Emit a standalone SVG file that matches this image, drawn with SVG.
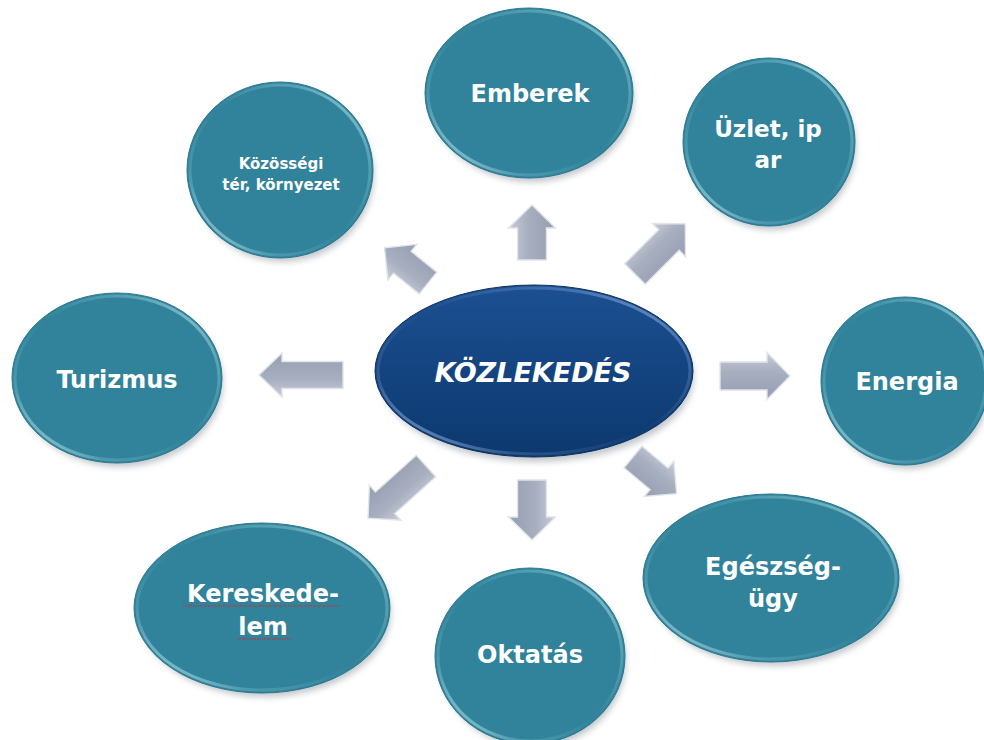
<svg xmlns="http://www.w3.org/2000/svg" width="984" height="740" viewBox="0 0 984 740">
<style>
.lbl{font-family:"DejaVu Sans","Liberation Sans",sans-serif;font-weight:bold;fill:#ffffff;text-anchor:middle}
.bub{fill:#30839a}
.rim{fill:none;stroke:url(#rimG);stroke-width:3}
.edge{fill:none;stroke:#2a7890;stroke-width:1}
.shd{fill:#6d7780;opacity:0.4;filter:url(#blur)}
.arr{fill:url(#arrG);stroke:#e1e4eb;stroke-width:1.4;stroke-linejoin:miter}
.squig{fill:none;stroke:#d42a2a;stroke-width:1.2;stroke-dasharray:1.5 1}
</style>
<defs>
<filter id="blur" x="-20%" y="-20%" width="140%" height="140%"><feGaussianBlur stdDeviation="3"/></filter>
<linearGradient id="rimG" x1="0" y1="1" x2="1" y2="0">
<stop offset="0" stop-color="#e4fbff" stop-opacity="0.95"/>
<stop offset="0.22" stop-color="#bfeff7" stop-opacity="0.2"/>
<stop offset="0.5" stop-color="#bfeff7" stop-opacity="0"/>
<stop offset="0.8" stop-color="#bfeff7" stop-opacity="0.3"/>
<stop offset="1" stop-color="#e4fbff" stop-opacity="0.85"/>
</linearGradient>
<linearGradient id="rimB" x1="0" y1="1" x2="1" y2="0">
<stop offset="0" stop-color="#c8dcff" stop-opacity="0.95"/>
<stop offset="0.22" stop-color="#9cbcf0" stop-opacity="0.2"/>
<stop offset="0.5" stop-color="#9cbcf0" stop-opacity="0"/>
<stop offset="0.8" stop-color="#9cbcf0" stop-opacity="0.3"/>
<stop offset="1" stop-color="#c8dcff" stop-opacity="0.8"/>
</linearGradient>
<linearGradient id="coreG" x1="0" y1="0" x2="0" y2="1">
<stop offset="0" stop-color="#1c5092"/>
<stop offset="1" stop-color="#0c386e"/>
</linearGradient>
<linearGradient id="arrG" x1="0" y1="0" x2="0" y2="1">
<stop offset="0" stop-color="#c9cdd8"/>
<stop offset="0.4" stop-color="#a8afc0"/>
<stop offset="1" stop-color="#969db1"/>
</linearGradient>
</defs>
<rect width="984" height="740" fill="#ffffff"/>

<g id="connectors">
<path class="arr" transform="translate(532,260) rotate(-90)" d="M0,-14.5 H32 V-23.5 L55,0 L32,23.5 V14.5 H0 Z"/>
<path class="arr" transform="translate(635,274) rotate(-45)" d="M0,-14.5 H48 V-23.5 L71,0 L48,23.5 V14.5 H0 Z"/>
<path class="arr" transform="translate(720,376)" d="M0,-14 H47 V-23.5 L70,0 L47,23.5 V14 H0 Z"/>
<path class="arr" transform="translate(633,457) rotate(40)" d="M0,-14 H34 V-23 L57,0 L34,23 V14 H0 Z"/>
<path class="arr" transform="translate(532,480) rotate(90)" d="M0,-14.5 H37 V-23.5 L60,0 L37,23.5 V14.5 H0 Z"/>
<path class="arr" transform="translate(426,466) rotate(138)" d="M0,-14.5 H55 V-23.5 L78,0 L55,23.5 V14.5 H0 Z"/>
<path class="arr" transform="translate(343,375) rotate(180)" d="M0,-13.5 H61 V-22 L84,0 L61,22 V13.5 H0 Z"/>
<path class="arr" transform="translate(428,283) rotate(-141)" d="M0,-14 H33 V-23 L56,0 L33,23 V14 H0 Z"/>
</g>

<g id="n-emberek">
<ellipse class="shd" cx="532" cy="98" rx="102" ry="84"/>
<ellipse class="bub" cx="529" cy="93" rx="104" ry="85"/>
<ellipse class="edge" cx="529" cy="93" rx="104" ry="85"/>
<ellipse class="rim" cx="529" cy="93" rx="101" ry="82"/>
<text class="lbl" x="530" y="102" font-size="24">Emberek</text>
</g>

<g id="n-uzlet">
<ellipse class="shd" cx="772" cy="147" rx="84" ry="83"/>
<ellipse class="bub" cx="769" cy="142" rx="86" ry="84"/>
<ellipse class="edge" cx="769" cy="142" rx="86" ry="84"/>
<ellipse class="rim" cx="769" cy="142" rx="83" ry="81"/>
<text class="lbl" x="768" y="137" font-size="23">Üzlet, ip</text>
<text class="lbl" x="768" y="168" font-size="23">ar</text>
</g>

<g id="n-kozossegi">
<ellipse class="shd" cx="283" cy="175" rx="91" ry="87"/>
<ellipse class="bub" cx="280" cy="170" rx="93" ry="88"/>
<ellipse class="edge" cx="280" cy="170" rx="93" ry="88"/>
<ellipse class="rim" cx="280" cy="170" rx="90" ry="85"/>
<text class="lbl" x="281" y="169" font-size="15">Közösségi</text>
<text class="lbl" x="281" y="190" font-size="15">tér, környezet</text>
</g>

<g id="n-turizmus">
<ellipse class="shd" cx="120" cy="383" rx="103" ry="84"/>
<ellipse class="bub" cx="117" cy="378" rx="105" ry="85"/>
<ellipse class="edge" cx="117" cy="378" rx="105" ry="85"/>
<ellipse class="rim" cx="117" cy="378" rx="102" ry="82"/>
<text class="lbl" x="117" y="388" font-size="24">Turizmus</text>
</g>

<g id="n-energia">
<ellipse class="shd" cx="908" cy="386" rx="82" ry="83"/>
<ellipse class="bub" cx="905" cy="381" rx="84" ry="84"/>
<ellipse class="edge" cx="905" cy="381" rx="84" ry="84"/>
<ellipse class="rim" cx="905" cy="381" rx="81" ry="81"/>
<text class="lbl" x="907" y="390" font-size="24">Energia</text>
</g>

<g id="n-egeszsegugy">
<ellipse class="shd" cx="774" cy="583" rx="126" ry="83"/>
<ellipse class="bub" cx="771" cy="578" rx="128" ry="84"/>
<ellipse class="edge" cx="771" cy="578" rx="128" ry="84"/>
<ellipse class="rim" cx="771" cy="578" rx="125" ry="81"/>
<text class="lbl" x="773" y="575" font-size="24">Egészség-</text>
<text class="lbl" x="773" y="607" font-size="24">ügy</text>
</g>

<g id="n-oktatas">
<ellipse class="shd" cx="533" cy="661" rx="93" ry="87"/>
<ellipse class="bub" cx="530" cy="656" rx="95" ry="88"/>
<ellipse class="edge" cx="530" cy="656" rx="95" ry="88"/>
<ellipse class="rim" cx="530" cy="656" rx="92" ry="85"/>
<text class="lbl" x="530" y="663" font-size="24">Oktatás</text>
</g>

<g id="n-kereskedelem">
<ellipse class="shd" cx="265" cy="613" rx="126" ry="84"/>
<ellipse class="bub" cx="262" cy="608" rx="128" ry="85"/>
<ellipse class="edge" cx="262" cy="608" rx="128" ry="85"/>
<ellipse class="rim" cx="262" cy="608" rx="125" ry="82"/>
<text class="lbl" x="263" y="602" font-size="24">Kereskede-</text>
<text class="lbl" x="263" y="635" font-size="24">lem</text>
<path class="squig" d="M183,606 H339"/>
<path class="squig" d="M237,639 H292"/>
</g>

<g id="n-kozlekedes">
<ellipse class="shd" cx="537" cy="377" rx="157" ry="85"/>
<ellipse cx="534" cy="371" rx="159" ry="86" fill="url(#coreG)"/>
<ellipse cx="534" cy="371" rx="159" ry="86" fill="none" stroke="#0a2f5e" stroke-width="1"/>
<ellipse cx="534" cy="371" rx="156" ry="83" fill="none" stroke="url(#rimB)" stroke-width="3"/>
<text class="lbl" x="533" y="382" font-size="27" font-style="italic">KÖZLEKEDÉS</text>
</g>
</svg>
